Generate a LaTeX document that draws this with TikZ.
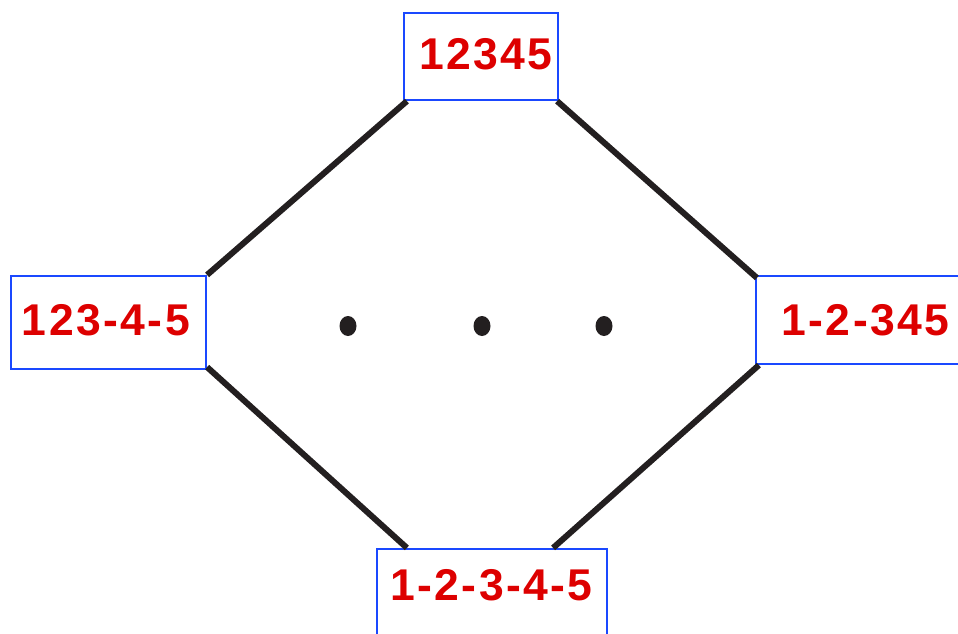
\documentclass[tikz,border=0pt]{standalone}
\usepackage{fontspec}
\setmainfont{Liberation Sans}
\usetikzlibrary{positioning,calc}
\definecolor{BoxBlue}{RGB}{26,72,255}
\definecolor{NameRed}{RGB}{221,0,0}
\definecolor{EdgeBlack}{RGB}{35,31,32}

\begin{document}
\begin{tikzpicture}[x=1pt, y=-1pt,
	partbox/.style={draw=BoxBlue, line width=2.2pt, inner sep=0pt},
	parttext/.style={NameRed, anchor=base, inner sep=0pt, font=\fontsize{44.5}{50}\selectfont\bfseries\addfontfeatures{LetterSpace=5.5}},
	edge/.style={EdgeBlack, line width=6pt}]
	\useasboundingbox (0,0) rectangle (958,633);
	% boxes
	\node[partbox, minimum width=154pt, minimum height=87pt] (top) at (481,56.5) {};
	\node[partbox, minimum width=195pt, minimum height=93pt] (left) at (108.5,322.5) {};
	\node[partbox, minimum width=206pt, minimum height=88pt] (right) at (859,320) {};
	\node[partbox, minimum width=230pt, minimum height=88pt] (bottom) at (492,593) {};
	% names
	\node[parttext] (ttop) at (486,69.5) {12345};
	\node[parttext] (tleft) at (106,335) {123-4-5};
	\node[parttext] (tright) at (865.5,335) {1-2-345};
	\node[parttext] (tbottom) at (491.5,600) {1-2-3-4-5};
	% edges
	\coordinate (B1) at ([xshift=31pt]bottom.north west);
	\coordinate (B2) at ([xshift=-55pt]bottom.north east);
	\draw[edge] ([xshift=4pt]top.south west) -- (left.north east);
	\draw[edge] ([xshift=-2pt]top.south east) -- ([xshift=2pt, yshift=-3pt]right.north west);
	\draw[edge] ([yshift=3pt]left.south east) -- (B1);
	\draw[edge] ([xshift=4pt]right.south west) -- (B2);
	% dots
	\fill[EdgeBlack] (348,326) ellipse [x radius=8.5pt, y radius=10pt];
	\fill[EdgeBlack] (482,326) ellipse [x radius=8.5pt, y radius=10pt];
	\fill[EdgeBlack] (604,326) ellipse [x radius=8.5pt, y radius=10pt];
\end{tikzpicture}
\end{document}
